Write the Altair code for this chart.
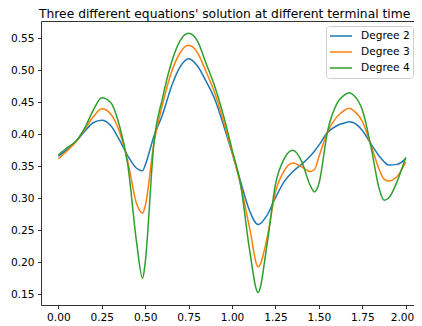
import altair as alt
import pandas as pd

# Terminal time (shared x grid)
x_values = [0.00, 0.05, 0.10, 0.15, 0.20, 0.25, 0.30, 0.35, 0.40, 0.45, 0.485, 0.50,
            0.55, 0.60, 0.65, 0.70, 0.75, 0.80, 0.85, 0.90, 0.95, 1.00, 1.05, 1.10,
            1.15, 1.20, 1.25, 1.30, 1.35, 1.40, 1.45, 1.475, 1.50, 1.55, 1.60, 1.65,
            1.675, 1.70, 1.75, 1.80, 1.85, 1.875, 1.90, 1.95, 2.00]

degree2 = [0.366, 0.376, 0.388, 0.404, 0.418, 0.422, 0.414, 0.392, 0.366, 0.347, 0.343, 0.352,
           0.397, 0.431, 0.474, 0.505, 0.518, 0.507, 0.483, 0.455, 0.415, 0.371, 0.325, 0.281,
           0.259, 0.273, 0.301, 0.326, 0.342, 0.353, 0.366, 0.374, 0.383, 0.403, 0.413, 0.418,
           0.4195, 0.418, 0.406, 0.385, 0.365, 0.357, 0.352, 0.353, 0.362]

degree3 = [0.362, 0.374, 0.388, 0.407, 0.427, 0.440, 0.432, 0.405, 0.357, 0.292, 0.277, 0.288,
           0.386, 0.447, 0.496, 0.527, 0.539, 0.528, 0.498, 0.465, 0.421, 0.372, 0.320, 0.255,
           0.193, 0.236, 0.310, 0.343, 0.355, 0.349, 0.342, 0.345, 0.365, 0.404, 0.426, 0.438,
           0.4405, 0.437, 0.420, 0.383, 0.343, 0.330, 0.327, 0.334, 0.357]

degree4 = [0.368, 0.379, 0.389, 0.409, 0.437, 0.457, 0.450, 0.415, 0.352, 0.232, 0.175, 0.200,
           0.386, 0.457, 0.511, 0.546, 0.558, 0.546, 0.511, 0.475, 0.430, 0.376, 0.320, 0.221,
           0.153, 0.225, 0.322, 0.362, 0.375, 0.358, 0.320, 0.310, 0.323, 0.405, 0.446, 0.462,
           0.465, 0.461, 0.438, 0.380, 0.312, 0.297, 0.300, 0.326, 0.364]

series_names = ["Degree 2", "Degree 3", "Degree 4"]
series_colors = ["#1f77b4", "#ff7f0e", "#2ca02c"]
x_ticks = [0.0, 0.25, 0.5, 0.75, 1.0, 1.25, 1.5, 1.75, 2.0]
y_ticks = [0.15, 0.20, 0.25, 0.30, 0.35, 0.40, 0.45, 0.50, 0.55]
title_text = "Three different equations' solution at different terminal time"

rows = []
for name, vals in zip(series_names, [degree2, degree3, degree4]):
    for xv, yv in zip(x_values, vals):
        rows.append({"t": xv, "value": yv, "series": name})
df = pd.DataFrame(rows)

FONT = "DejaVu Sans"
x_scale = alt.Scale(domain=[-0.1, 2.0474], nice=False, zero=False)
y_scale = alt.Scale(domain=[0.1333, 0.577], nice=False, zero=False)
y_axis = alt.Axis(values=y_ticks, format=".2f", title=None, labelOverlap=False)

lines = alt.Chart(df).mark_line(interpolate="monotone", strokeWidth=1.5, clip=True).encode(
    x=alt.X("t:Q", scale=x_scale,
            axis=alt.Axis(values=x_ticks, format=".2f", title=None,
                          labelFlush=9, labelFlushOffset=8, labelOverlap=False)),
    y=alt.Y("value:Q", scale=y_scale, axis=y_axis),
    color=alt.Color("series:N",
                    scale=alt.Scale(domain=series_names, range=series_colors),
                    legend=alt.Legend(title=None, orient="none", legendX=285, legendY=5)),
)

# invisible layer that only carries the top spine
top_spine = alt.Chart(df).mark_line(opacity=0).encode(
    x=alt.X("t:Q", scale=x_scale,
            axis=alt.Axis(orient="top", labels=False, ticks=False, domain=True, title=None)),
    y=alt.Y("value:Q", scale=y_scale, axis=y_axis),
    detail="series:N",
)

chart = alt.layer(lines, top_spine).resolve_axis(x="independent").properties(
    width=373,
    height=284,
    title=alt.Title(title_text, fontSize=12.3, font=FONT, fontWeight="normal",
                    color="#000000", anchor="start", frame="group", dx=-2,
                    baseline="alphabetic", offset=-9),
    autosize=alt.AutoSizeParams(type="none"),
    padding={"left": 33, "top": 13, "right": 0, "bottom": 16},
).configure_view(
    stroke=None
).configure_axis(
    domain=True, domainColor="#000000", domainWidth=0.8,
    grid=False, tickSize=3.5, tickWidth=0.8, tickColor="#000000",
    labelFont=FONT, labelFontSize=10.6, labelColor="#000000", labelPadding=3.5,
).configure_legend(
    symbolType="stroke", symbolSize=484, symbolStrokeWidth=1.5,
    labelFont=FONT, labelFontSize=10.6, labelColor="#000000", labelOffset=8,
    padding=3, strokeColor="#d0d0d0", fillColor="rgba(255,255,255,0.8)",
    cornerRadius=3, clipHeight=14, rowPadding=2,
)

chart.save("out.html", embed_options={"renderer": "svg", "actions": False})
